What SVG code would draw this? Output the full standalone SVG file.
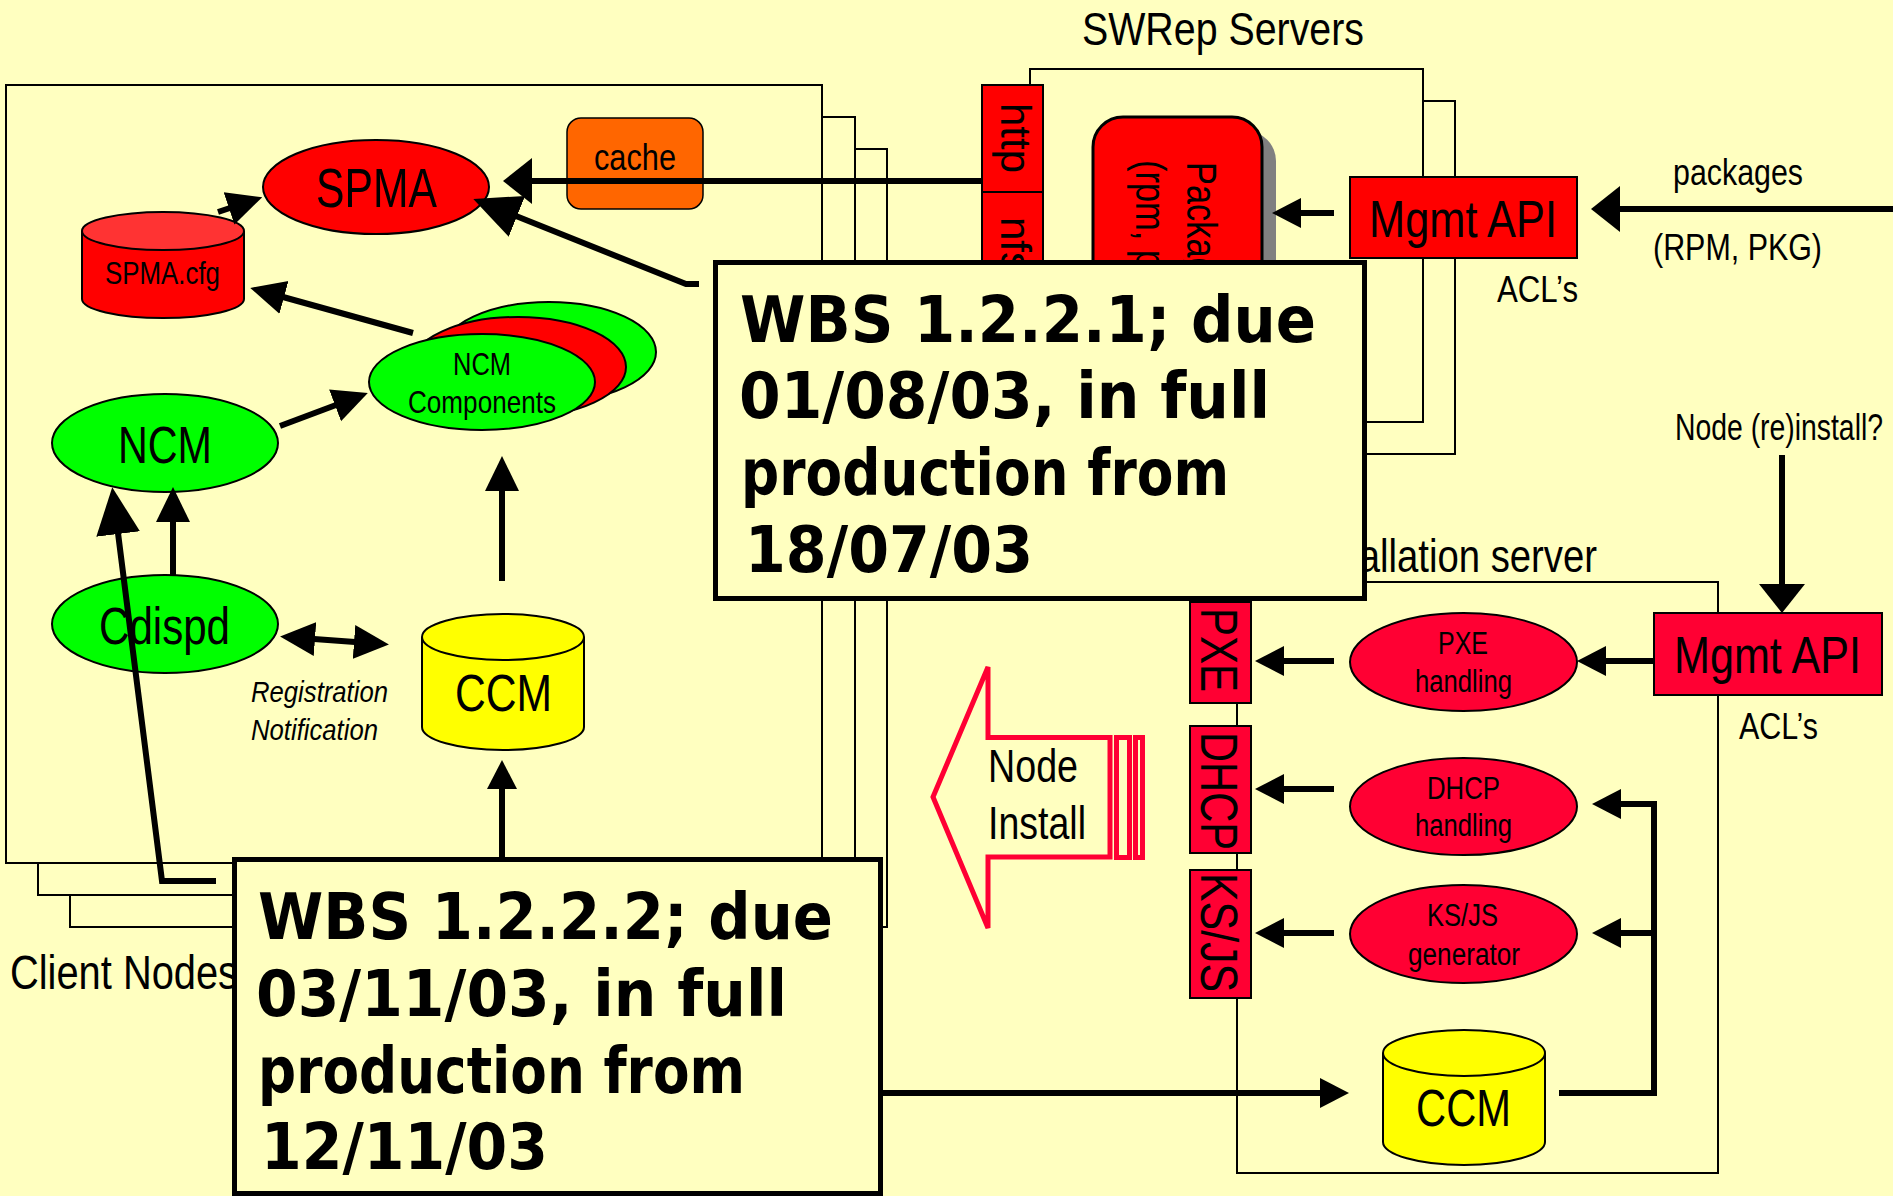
<svg xmlns="http://www.w3.org/2000/svg" width="1893" height="1196" viewBox="0 0 1893 1196">
<defs>
<style>
.frame{fill:#FFFFC0;stroke:#000;stroke-width:2}
.n{font-family:"Liberation Sans Narrow","Liberation Sans",Arial,sans-serif;fill:#000}
.a{font-family:"Liberation Sans",Arial,sans-serif;fill:#000}
.w{font-family:"DejaVu Sans",sans-serif;font-weight:bold;font-size:64px;fill:#000}
.ln{fill:none;stroke:#000;stroke-width:6}
.red{fill:#FF0000;stroke:#000;stroke-width:2}
.crim{fill:#FF0033;stroke:#000;stroke-width:2}
.grn{fill:#00FF00;stroke:#000;stroke-width:2}
.yel{fill:#FFFF00;stroke:#000;stroke-width:2}
.wbs{fill:#FFFFC0;stroke:#000;stroke-width:5}
</style>
<marker id="ahS" markerUnits="userSpaceOnUse" markerWidth="30" markerHeight="30" viewBox="0 0 30 30" refX="1" refY="15" orient="auto"><path d="M0,0 L29,15 L0,30 z" fill="#000"/></marker>
<marker id="ahM" markerUnits="userSpaceOnUse" markerWidth="36" markerHeight="36" viewBox="0 0 36 36" refX="1" refY="18" orient="auto-start-reverse"><path d="M0,1 L35,18 L0,35 z" fill="#000"/></marker>
<marker id="ahW" markerUnits="userSpaceOnUse" markerWidth="30" markerHeight="46" viewBox="0 0 30 46" refX="1" refY="23" orient="auto"><path d="M0,0 L29,23 L0,46 z" fill="#000"/></marker>
<marker id="ahL" markerUnits="userSpaceOnUse" markerWidth="48" markerHeight="46" viewBox="0 0 48 46" refX="1" refY="23" orient="auto"><path d="M0,1 L47,23 L0,45 z" fill="#000"/></marker>
</defs>
<rect x="0" y="0" width="1893" height="1196" fill="#FFFFC0"/>

<g id="client-nodes-frame">
<rect class="frame" x="70" y="149" width="817" height="778"/>
<rect class="frame" x="38" y="117" width="817" height="778"/>
<rect class="frame" x="6" y="85" width="816" height="778"/>
<text class="n" x="10" y="989" font-size="48" textLength="228" lengthAdjust="spacingAndGlyphs">Client Nodes</text>
</g>

<g id="swrep-frame">
<rect class="frame" x="1062" y="101" width="393" height="353"/>
<rect class="frame" x="1030" y="69" width="393" height="353"/>
<text class="n" x="1082" y="45" font-size="47" textLength="282" lengthAdjust="spacingAndGlyphs">SWRep Servers</text>
</g>

<g id="install-frame">
<rect class="frame" x="1237" y="582" width="481" height="591"/>
<text class="n" x="1297" y="572" font-size="47" textLength="300" lengthAdjust="spacingAndGlyphs">Installation server</text>
</g>

<g id="cache">
<rect x="567" y="118" width="136" height="91" rx="14" fill="#FF6600" stroke="#000" stroke-width="1.5"/>
<text class="n" x="594" y="170" font-size="36" textLength="82" lengthAdjust="spacingAndGlyphs">cache</text>
</g>

<g id="spma">
<ellipse class="red" cx="376" cy="187" rx="113" ry="47"/>
<text class="n" x="316" y="207" font-size="55" textLength="121" lengthAdjust="spacingAndGlyphs">SPMA</text>
</g>

<g id="spma-cfg">
<path d="M82,231 L82,299 A81,19 0 0 0 244,299 L244,231" fill="#FF0000" stroke="#000" stroke-width="2"/>
<ellipse cx="163" cy="231" rx="81" ry="19" fill="#FF3333" stroke="#000" stroke-width="2"/>
<text class="n" x="105" y="284" font-size="32" textLength="115" lengthAdjust="spacingAndGlyphs">SPMA.cfg</text>
</g>

<g id="ncm-components">
<ellipse class="grn" cx="549" cy="352" rx="107" ry="50"/>
<ellipse class="red" cx="518" cy="367" rx="108" ry="50"/>
<ellipse class="grn" cx="482" cy="382" rx="113" ry="48"/>
<text class="n" x="453" y="375" font-size="32" textLength="58" lengthAdjust="spacingAndGlyphs">NCM</text>
<text class="n" x="408" y="413" font-size="32" textLength="148" lengthAdjust="spacingAndGlyphs">Components</text>
</g>

<g id="ncm">
<ellipse class="grn" cx="165" cy="443" rx="113" ry="49"/>
<text class="n" x="118" y="463" font-size="52" textLength="94" lengthAdjust="spacingAndGlyphs">NCM</text>
</g>

<g id="cdispd">
<ellipse class="grn" cx="165" cy="624" rx="113" ry="49"/>
<text class="n" x="99" y="644" font-size="52" textLength="131" lengthAdjust="spacingAndGlyphs">Cdispd</text>
</g>

<g id="reg-label">
<text class="n" x="251" y="702" font-size="30" font-style="italic" textLength="137" lengthAdjust="spacingAndGlyphs">Registration</text>
<text class="n" x="251" y="740" font-size="30" font-style="italic" textLength="127" lengthAdjust="spacingAndGlyphs">Notification</text>
</g>

<g id="ccm-client">
<path d="M422,637 L422,727 A81,23 0 0 0 584,727 L584,637" fill="#FFFF00" stroke="#000" stroke-width="2"/>
<ellipse class="yel" cx="503" cy="637" rx="81" ry="23"/>
<text class="n" x="455" y="711" font-size="52" textLength="97" lengthAdjust="spacingAndGlyphs">CCM</text>
</g>

<g id="http">
<rect class="red" x="982" y="85" width="61" height="107"/>
<text class="a" transform="translate(1001,103) rotate(90)" font-size="42" textLength="70" lengthAdjust="spacingAndGlyphs">http</text>
</g>
<g id="nfs">
<rect class="red" x="982" y="192" width="61" height="110"/>
<text class="a" transform="translate(1001,217) rotate(90)" font-size="42">nfs</text>
</g>

<g id="packages">
<rect x="1107" y="131" width="169" height="190" rx="30" fill="#808080"/>
<rect x="1093" y="117" width="169" height="190" rx="30" fill="#FF0000" stroke="#000" stroke-width="3"/>
<text class="n" transform="translate(1187,162) rotate(90)" font-size="42" textLength="151" lengthAdjust="spacingAndGlyphs">Packages</text>
<text class="n" transform="translate(1136,160) rotate(90)" font-size="42" textLength="157" lengthAdjust="spacingAndGlyphs">(rpm, pkg)</text>
</g>

<g id="mgmt-api-swrep">
<rect class="red" x="1350" y="177" width="227" height="81"/>
<text class="n" x="1369" y="237" font-size="52" textLength="188" lengthAdjust="spacingAndGlyphs">Mgmt API</text>
</g>

<g id="swrep-labels">
<text class="n" x="1673" y="185" font-size="37" textLength="130" lengthAdjust="spacingAndGlyphs">packages</text>
<text class="n" x="1653" y="260" font-size="37" textLength="169" lengthAdjust="spacingAndGlyphs">(RPM, PKG)</text>
<text class="n" x="1497" y="302" font-size="37" textLength="81" lengthAdjust="spacingAndGlyphs">ACL’s</text>
<text class="n" x="1675" y="440" font-size="37" textLength="208" lengthAdjust="spacingAndGlyphs">Node (re)install?</text>
</g>

<g id="mgmt-api-install">
<rect class="crim" x="1654" y="613" width="228" height="82"/>
<text class="n" x="1674" y="673" font-size="52" textLength="187" lengthAdjust="spacingAndGlyphs">Mgmt API</text>
<text class="n" x="1739" y="739" font-size="37" textLength="79" lengthAdjust="spacingAndGlyphs">ACL’s</text>
</g>

<g id="pxe">
<rect class="crim" x="1190" y="602" width="61" height="101"/>
<text class="n" transform="translate(1201,608) rotate(90)" font-size="52" textLength="84" lengthAdjust="spacingAndGlyphs">PXE</text>
</g>
<g id="dhcp">
<rect class="crim" x="1190" y="726" width="61" height="127"/>
<text class="n" transform="translate(1201,732) rotate(90)" font-size="52" textLength="118" lengthAdjust="spacingAndGlyphs">DHCP</text>
</g>
<g id="ksjs">
<rect class="crim" x="1190" y="870" width="61" height="128"/>
<text class="n" transform="translate(1201,873) rotate(90)" font-size="52" textLength="119" lengthAdjust="spacingAndGlyphs">KS/JS</text>
</g>

<g id="pxe-handling">
<ellipse class="crim" cx="1463.5" cy="662" rx="113.5" ry="49"/>
<text class="n" x="1438" y="654" font-size="31" textLength="50" lengthAdjust="spacingAndGlyphs">PXE</text>
<text class="n" x="1415" y="692" font-size="31" textLength="97" lengthAdjust="spacingAndGlyphs">handling</text>
</g>
<g id="dhcp-handling">
<ellipse class="crim" cx="1463.5" cy="806.5" rx="113.5" ry="48.5"/>
<text class="n" x="1427" y="799" font-size="31" textLength="73" lengthAdjust="spacingAndGlyphs">DHCP</text>
<text class="n" x="1415" y="836" font-size="31" textLength="97" lengthAdjust="spacingAndGlyphs">handling</text>
</g>
<g id="ksjs-generator">
<ellipse class="crim" cx="1463.5" cy="934" rx="113.5" ry="49"/>
<text class="n" x="1427" y="926" font-size="31" textLength="71" lengthAdjust="spacingAndGlyphs">KS/JS</text>
<text class="n" x="1408" y="965" font-size="31" textLength="112" lengthAdjust="spacingAndGlyphs">generator</text>
</g>

<g id="ccm-install">
<path d="M1383,1053 L1383,1142 A81,23 0 0 0 1545,1142 L1545,1053" fill="#FFFF00" stroke="#000" stroke-width="2"/>
<ellipse class="yel" cx="1464" cy="1053" rx="81" ry="23"/>
<text class="n" x="1416" y="1126" font-size="52" textLength="95" lengthAdjust="spacingAndGlyphs">CCM</text>
</g>

<g id="connectors">
<line class="ln" x1="982" y1="181" x2="531" y2="181" marker-end="url(#ahW)"/>
<line class="ln" stroke-width="7" x1="218" y1="212" x2="230" y2="208" marker-end="url(#ahM)"/>
<line class="ln" stroke-width="7" x1="413" y1="333" x2="283" y2="297" marker-end="url(#ahM)"/>
<line class="ln" stroke-width="7" x1="280" y1="426" x2="336" y2="405" marker-end="url(#ahM)"/>
<line class="ln" x1="173" y1="576" x2="173" y2="521" marker-end="url(#ahM)"/>
<polyline class="ln" stroke-width="5" points="216,881 162,881 118,533" marker-end="url(#ahL)"/>
<line class="ln" x1="502" y1="581" x2="502" y2="490" marker-end="url(#ahM)"/>
<line class="ln" x1="502" y1="857" x2="502" y2="788" marker-end="url(#ahS)"/>
<polyline class="ln" stroke-width="5" points="699,284 686,284 516,216" marker-end="url(#ahL)"/>
<line class="ln" x1="314" y1="639" x2="355" y2="642" marker-start="url(#ahM)" marker-end="url(#ahM)"/>
<line class="ln" x1="1334" y1="213" x2="1300" y2="213" marker-end="url(#ahS)"/>
<line class="ln" x1="1893" y1="209" x2="1619" y2="209" marker-end="url(#ahW)"/>
<line class="ln" stroke-width="5" x1="1782" y1="455" x2="1782" y2="585" marker-end="url(#ahW)"/>
<line class="ln" x1="1334" y1="661" x2="1283" y2="661" marker-end="url(#ahS)"/>
<line class="ln" x1="1334" y1="789" x2="1283" y2="789" marker-end="url(#ahS)"/>
<line class="ln" x1="1334" y1="933" x2="1283" y2="933" marker-end="url(#ahS)"/>
<line class="ln" x1="1654" y1="661" x2="1605" y2="661" marker-end="url(#ahS)"/>
<polyline class="ln" points="1559,1093 1654,1093 1654,804 1620,804" marker-end="url(#ahS)"/>
<line class="ln" x1="1654" y1="933" x2="1620" y2="933" marker-end="url(#ahS)"/>
<line class="ln" stroke-width="5" x1="883" y1="1093" x2="1321" y2="1093" marker-end="url(#ahS)"/>
</g>

<g id="node-install">
<polygon points="933,797 988,667 988,737.5 1110,737.5 1110,857 988,857 988,928" fill="none" stroke="#FF0033" stroke-width="5"/>
<rect x="1116.5" y="737.5" width="13" height="120" fill="none" stroke="#FF0033" stroke-width="5"/>
<rect x="1135.5" y="737.5" width="7" height="120" fill="none" stroke="#FF0033" stroke-width="5"/>
<text class="n" x="988" y="782" font-size="46" textLength="90" lengthAdjust="spacingAndGlyphs">Node</text>
<text class="n" x="988" y="839" font-size="46" textLength="98" lengthAdjust="spacingAndGlyphs">Install</text>
</g>

<g id="wbs-1221">
<rect class="wbs" x="715.5" y="262.5" width="649" height="336"/>
<text class="w" x="740" y="342" textLength="576" lengthAdjust="spacingAndGlyphs">WBS 1.2.2.1; due</text>
<text class="w" x="739" y="418" textLength="531" lengthAdjust="spacingAndGlyphs">01/08/03, in full</text>
<text class="w" x="741" y="495" textLength="488" lengthAdjust="spacingAndGlyphs">production from</text>
<text class="w" x="745" y="572" textLength="288" lengthAdjust="spacingAndGlyphs">18/07/03</text>
</g>

<g id="wbs-1222">
<rect class="wbs" x="234.5" y="859.5" width="646" height="334"/>
<text class="w" x="258" y="939" textLength="575" lengthAdjust="spacingAndGlyphs">WBS 1.2.2.2; due</text>
<text class="w" x="256" y="1016" textLength="531" lengthAdjust="spacingAndGlyphs">03/11/03, in full</text>
<text class="w" x="258" y="1093" textLength="487" lengthAdjust="spacingAndGlyphs">production from</text>
<text class="w" x="261" y="1169" textLength="287" lengthAdjust="spacingAndGlyphs">12/11/03</text>
</g>
</svg>
